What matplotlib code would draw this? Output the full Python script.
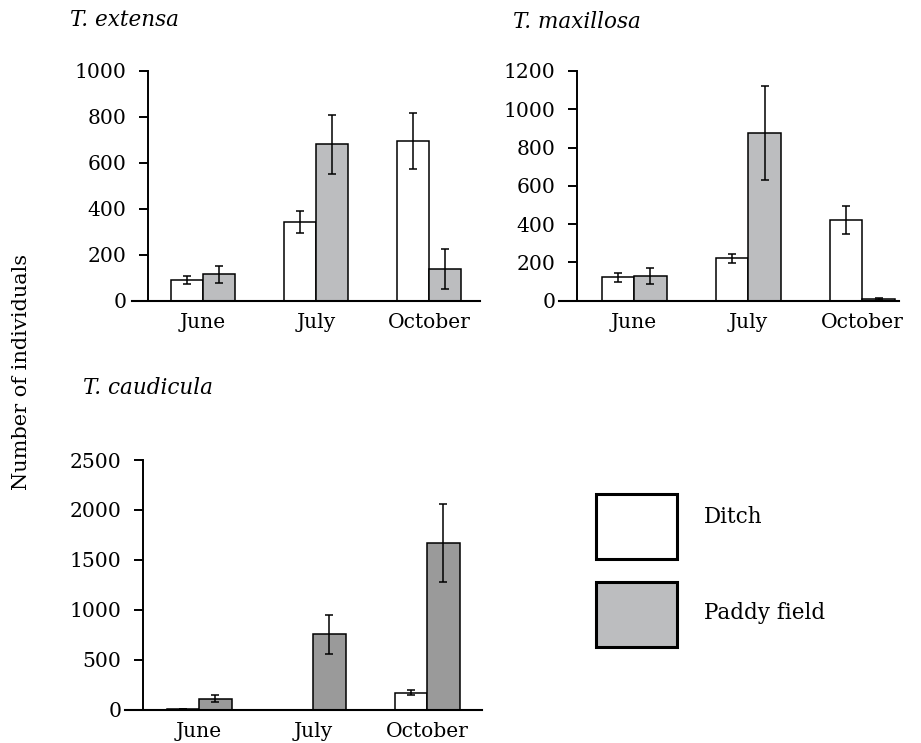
import numpy as np
import matplotlib
matplotlib.use("Agg")
import matplotlib.pyplot as plt
from matplotlib.patches import Rectangle

plt.rcParams['font.family'] = ['DejaVu Serif']
plt.rcParams['font.size'] = 14.6

months = ["June", "July", "October"]

# T. extensa
ext_ditch = [91, 345, 695]
ext_ditch_err = [19, 48, 121]
ext_paddy = [117, 681, 139]
ext_paddy_err = [37, 129, 87]

# T. maxillosa
max_ditch = [122, 221, 423]
max_ditch_err = [24, 25, 74]
max_paddy = [129, 876, 9]
max_paddy_err = [42, 247, 4]

# T. caudicula
cau_ditch = [3, 0, 170]
cau_ditch_err = [0, 0, 27]
cau_paddy = [110, 755, 1668]
cau_paddy_err = [35, 195, 393]

legend_labels = ["Ditch", "Paddy field"]
W = 0.285


def panel(rect, ditch, ditch_err, paddy, paddy_err, ymax, step,
          xlim, yaxis_x, paddy_color):
    ax = fig.add_axes(rect)
    x = np.arange(len(months))
    ax.bar(x - W / 2, ditch, W, color="white", edgecolor="black", linewidth=1.1, zorder=2)
    ax.bar(x + W / 2, paddy, W, color=paddy_color, edgecolor="black", linewidth=1.1, zorder=2)
    ax.errorbar(x - W / 2, ditch, yerr=ditch_err, fmt="none", ecolor="black",
                elinewidth=1.1, capsize=3.2, capthick=1.1, zorder=3)
    ax.errorbar(x + W / 2, paddy, yerr=paddy_err, fmt="none", ecolor="black",
                elinewidth=1.1, capsize=3.2, capthick=1.1, zorder=3)
    ax.set_xlim(*xlim)
    ax.set_ylim(0, ymax)
    ax.set_yticks(np.arange(0, ymax + 1, step))
    ax.set_xticks(x)
    ax.set_xticklabels(months)
    for s in ["top", "right"]:
        ax.spines[s].set_visible(False)
    ax.spines["left"].set_position(("data", yaxis_x))
    ax.spines["left"].set_linewidth(1.4)
    ax.spines["bottom"].set_linewidth(1.5)
    ax.tick_params(axis="y", length=6.5, width=1.4, pad=9)
    ax.tick_params(axis="x", length=0, pad=9)
    ax.patch.set_visible(False)
    return ax


fig = plt.figure(figsize=(9.21, 7.43), dpi=100)

panel([132 / 921, 1 - 301 / 743, 348 / 921, 230 / 743],
      ext_ditch, ext_ditch_err, ext_paddy, ext_paddy_err, 1000, 200,
      (-0.628, 2.45), -0.487, "#bcbdbf")
panel([559 / 921, 1 - 300.7 / 743, 340 / 921, 229.7 / 743],
      max_ditch, max_ditch_err, max_paddy, max_paddy_err, 1200, 200,
      (-0.658, 2.32), -0.503, "#bcbdbf")
panel([125 / 921, 1 - 709.7 / 743, 357 / 921, 249.7 / 743],
      cau_ditch, cau_ditch_err, cau_paddy, cau_paddy_err, 2500, 500,
      (-0.649, 2.48), -0.494, "#9a9a9a")

# panel titles
fig.text(70 / 921, 1 - 20 / 743, "T. extensa", style="italic", va="center", ha="left", fontsize=15.5)
fig.text(513 / 921, 1 - 22 / 743, "T. maxillosa", style="italic", va="center", ha="left", fontsize=15.5)
fig.text(83 / 921, 1 - 388 / 743, "T. caudicula", style="italic", va="center", ha="left", fontsize=15.5)

fig.text(22 / 921, 1 - 372 / 743, "Number of individuals", rotation=90,
         va="center", ha="center", fontsize=15)

# legend boxes drawn by hand
for (top, text_y, color, label) in [(494, 517, "white", legend_labels[0]),
                                    (582, 613, "#bcbdbf", legend_labels[1])]:
    fig.patches.append(Rectangle((596 / 921, 1 - (top + 65) / 743), 81 / 921, 65 / 743,
                                 transform=fig.transFigure, facecolor=color,
                                 edgecolor="black", linewidth=2.2))
    fig.text(704 / 921, 1 - text_y / 743, label, va="center", ha="left", fontsize=15.5)

fig.savefig("out.png", dpi=100)
